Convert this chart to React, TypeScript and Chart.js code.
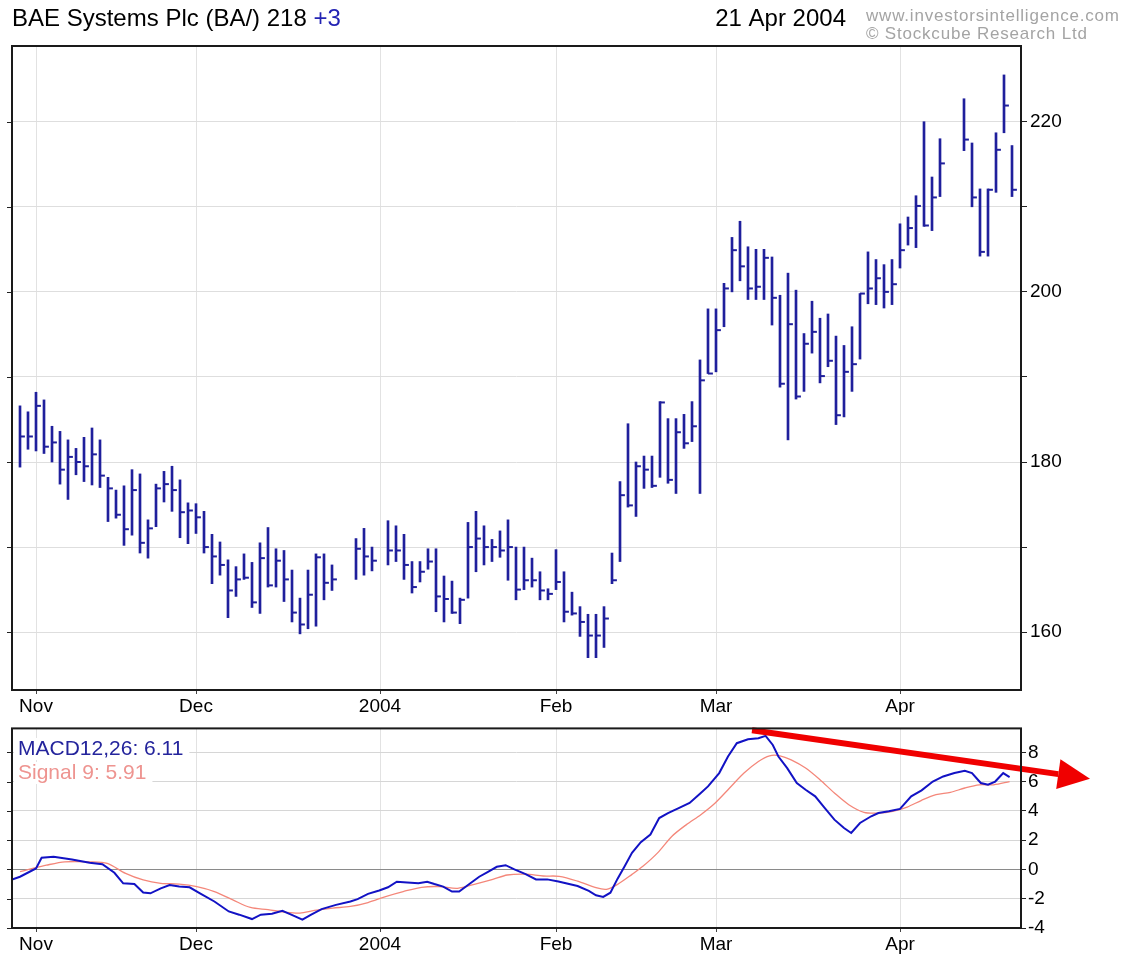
import React, { useEffect, useRef } from "react";
import { Chart, registerables } from "chart.js";
Chart.register(...registerables);

const FONT = "'Liberation Sans', Arial, sans-serif";

// x positions are weekday slots counted from Thu 30 Oct 2003 (holidays are empty slots)
const monthSlots = [2, 22, 45, 67, 87, 110];
const monthLabels = ["Nov", "Dec", "2004", "Feb", "Mar", "Apr"];

const priceSlots = [
  0, 1, 2, 3, 4, 5, 6, 7, 8, 9, 10, 11, 12, 13, 14, 15, 16, 17, 18, 19,
  20, 21, 22, 23, 24, 25, 26, 27, 28, 29, 30, 31, 32, 33, 34, 35, 36, 37, 38, 39,
  42, 43, 44, 46, 47, 48, 49, 50, 51, 52, 53, 54, 55, 56, 57, 58, 59, 60, 61, 62,
  63, 64, 65, 66, 67, 68, 69, 70, 71, 72, 73, 74, 75, 76, 77, 78, 79, 80, 81, 82,
  83, 84, 85, 86, 87, 88, 89, 90, 91, 92, 93, 94, 95, 96, 97, 98, 99, 100, 101, 102,
  103, 104, 105, 106, 107, 108, 109, 110, 111, 112, 113, 114, 115, 118, 119, 120, 121, 122, 123, 124,
];
const priceHigh = [
  186.6, 185.9, 188.2, 187.3, 184.2, 183.6, 182.6, 181.6, 182.9, 184.0, 182.6, 178.2, 176.7, 177.2, 179.1, 178.6, 173.2, 177.4, 178.9, 179.5,
  177.9, 175.2, 175.1, 174.2, 171.5, 170.6, 168.5, 167.7, 169.2, 168.2, 170.5, 172.3, 169.8, 169.6, 167.3, 164.0, 167.3, 169.2, 169.2, 167.9,
  171.0, 172.2, 170.0, 173.1, 172.5, 171.5, 168.3, 168.3, 169.8, 169.8, 166.6, 166.0, 164.0, 172.9, 174.2, 172.5, 170.9, 171.9, 173.2, 170.0,
  170.0, 168.7, 167.1, 165.1, 169.7, 167.1, 164.7, 163.0, 162.1, 162.1, 163.0, 169.3, 177.7, 184.5, 180.0, 180.7, 180.7, 187.1, 185.1, 185.1,
  185.6, 187.1, 192.0, 198.0, 198.0, 201.0, 206.4, 208.3, 205.3, 205.0, 205.0, 204.1, 199.6, 202.2, 200.2, 195.1, 198.9, 196.9, 197.4, 194.8,
  193.7, 195.9, 199.8, 204.7, 203.8, 203.2, 203.8, 208.0, 208.8, 211.3, 220.0, 213.5, 218.0, 222.7, 217.5, 212.1, 212.1, 218.7, 225.5, 217.2,
];
const priceLow = [
  179.4, 181.5, 181.3, 181.0, 180.0, 177.4, 175.6, 178.5, 177.7, 177.3, 177.0, 173.0, 173.4, 170.2, 171.4, 169.3, 168.7, 172.4, 175.3, 174.2,
  171.1, 170.4, 171.6, 169.3, 165.7, 166.7, 161.7, 164.2, 166.2, 162.9, 162.2, 165.3, 165.3, 163.6, 161.2, 159.8, 160.4, 160.7, 163.8, 164.9,
  166.2, 166.7, 167.2, 167.9, 168.3, 166.2, 164.6, 165.9, 167.4, 162.4, 161.2, 162.2, 161.0, 164.0, 167.1, 167.9, 168.3, 168.8, 166.1, 163.8,
  165.0, 165.3, 163.8, 163.8, 165.0, 161.2, 162.0, 159.5, 157.0, 157.0, 158.2, 165.7, 168.3, 174.7, 173.6, 176.9, 177.0, 178.2, 177.5, 176.3,
  181.6, 182.4, 176.3, 190.4, 190.6, 195.9, 200.0, 201.3, 199.1, 199.1, 199.1, 196.1, 188.8, 182.6, 187.4, 188.3, 192.8, 189.3, 191.2, 184.4,
  185.3, 188.3, 192.1, 198.6, 198.5, 198.1, 198.5, 202.8, 205.5, 205.2, 207.7, 207.2, 211.2, 216.6, 210.0, 204.2, 204.2, 211.7, 218.7, 211.2,
];
const priceClose = [
  183.0, 183.0, 186.6, 181.8, 182.3, 179.1, 180.6, 180.0, 179.5, 180.9, 178.4, 176.9, 173.8, 172.1, 176.7, 170.5, 172.2, 176.9, 177.4, 176.7,
  174.1, 174.3, 173.5, 170.0, 168.9, 167.9, 164.9, 166.2, 166.4, 163.5, 168.7, 165.5, 168.4, 166.2, 162.3, 160.9, 164.4, 168.8, 165.8, 166.2,
  169.8, 168.9, 168.4, 169.6, 169.6, 167.9, 165.3, 167.1, 168.3, 164.2, 163.9, 162.3, 163.8, 170.0, 171.0, 170.0, 170.0, 169.6, 170.0, 165.0,
  166.1, 166.1, 164.9, 164.5, 165.9, 162.4, 162.2, 161.2, 159.6, 159.6, 161.6, 166.1, 176.1, 174.9, 179.5, 179.1, 177.2, 187.0, 177.9, 183.5,
  182.2, 184.2, 189.6, 190.4, 195.5, 200.4, 204.9, 203.0, 200.4, 200.6, 204.0, 199.3, 189.2, 196.2, 187.7, 193.9, 195.3, 190.1, 191.9, 185.5,
  190.6, 191.5, 199.8, 200.4, 201.6, 200.0, 200.9, 204.9, 207.5, 210.1, 207.8, 211.1, 215.1, 217.9, 211.1, 204.7, 212.0, 216.7, 221.9, 212.0,
];
const priceTicks = [160, 170, 180, 190, 200, 210, 220];

const macdSlots = [
  -1, 0, 2, 2.7, 4.2, 6.5, 8.7, 10.3, 11.8, 12.9, 14.3, 15.4, 16.3, 17.6, 18.7, 19.9, 21.2, 22.5, 24.3, 26.1,
  27.4, 29, 30.1, 31.5, 32.8, 33.9, 35.3, 36.4, 37.7, 39.5, 41.3, 42.2, 43.5, 44.9, 46, 47.1, 48.4, 49.8, 50.9, 51.8,
  52.9, 54, 54.9, 56, 57.4, 58.5, 59.6, 60.7, 61.8, 63.2, 64.5, 65.9, 67.3, 69.7, 71.1, 72, 72.9, 73.8, 74.7, 75.6,
  76.5, 77.6, 78.8, 79.9, 81, 82.4, 83.7, 85.1, 86, 87.4, 88.5, 89.6, 91, 92.3, 93.2, 94.1, 94.8, 95.9, 97.1, 98.2,
  99.4, 100.5, 101.8, 103, 103.9, 105, 106.4, 107.3, 108.6, 110, 111.4, 112.7, 114.1, 115.4, 116.8, 118.1, 119, 120.1, 121, 121.9,
  122.9, 123.7,
];
const macdValues = [
  -0.7, -0.5, 0.07, 0.8, 0.86, 0.68, 0.45, 0.36, -0.23, -0.95, -1.0, -1.58, -1.63, -1.29, -1.06, -1.17, -1.22, -1.63, -2.19, -2.87,
  -3.09, -3.39, -3.09, -3.02, -2.82, -3.09, -3.43, -3.09, -2.71, -2.42, -2.19, -2.03, -1.67, -1.44, -1.22, -0.84, -0.9, -0.95, -0.84, -1.0,
  -1.17, -1.51, -1.51, -1.06, -0.5, -0.16, 0.18, 0.29, 0.0, -0.32, -0.68, -0.68, -0.82, -1.13, -1.47, -1.77, -1.88, -1.59, -0.63, 0.23,
  1.13, 1.86, 2.38, 3.51, 3.85, 4.2, 4.54, 5.22, 5.67, 6.58, 7.71, 8.62, 8.89, 8.96, 9.12, 8.5, 7.71, 6.92, 5.9, 5.44,
  4.99, 4.26, 3.4, 2.83, 2.49, 3.17, 3.63, 3.85, 3.97, 4.13, 4.99, 5.4, 6.0, 6.35, 6.58, 6.73, 6.58, 5.9, 5.78, 6.0,
  6.58, 6.3,
];
const signalSlots = [
  0, 1.1, 3.3, 5.6, 8.7, 10.9, 13.2, 15.4, 17.6, 19.9, 22.1, 24.3, 26.6, 28.8, 31, 33.3, 35, 36.8, 39.1, 41.3,
  43.5, 45.7, 47.9, 50.2, 52.4, 54.7, 56.9, 59.1, 60.9, 63.2, 65.4, 67.4, 69.7, 72, 73.3, 74.7, 76.5, 77.9, 79.7, 81.5,
  83.3, 85.1, 86.9, 88.7, 90.5, 92.3, 93.7, 95, 96.4, 98.2, 100, 101.8, 103.6, 105.5, 107.3, 109.1, 110.9, 112.7, 114.5, 116.3,
  118.1, 119.9, 121.7, 123.7,
];
const signalValues = [
  -0.15, 0.0, 0.29, 0.52, 0.52, 0.41, -0.27, -0.72, -0.95, -1.0, -1.17, -1.51, -2.08, -2.6, -2.75, -2.93, -2.98, -2.8, -2.64, -2.53,
  -2.26, -1.85, -1.51, -1.22, -1.17, -1.29, -1.0, -0.68, -0.38, -0.32, -0.45, -0.47, -0.8, -1.25, -1.36, -1.02, -0.34, 0.23, 1.13, 2.27,
  3.06, 3.74, 4.54, 5.56, 6.58, 7.37, 7.76, 7.76, 7.48, 6.92, 6.12, 5.22, 4.42, 3.9, 3.85, 3.97, 4.26, 4.72, 5.1, 5.26,
  5.56, 5.78, 5.78, 6.0,
];
const macdTicks = [-4, -3, -2, -1, 0, 1, 2, 3, 4, 5, 6, 7, 8, 9];
// trend arrow drawn on the MACD panel: [slot, value] from start to tip
const arrowStart = [91.5, 9.5];
const arrowTip = [133.75, 6.2];

const NAVY = "#1f1f9c";

const framePlugin = {
  id: "frame",
  afterDraw(chart: any) {
    const { ctx, chartArea: a } = chart;
    const ys = chart.scales.y;
    ctx.save();
    ctx.strokeStyle = "#222";
    ctx.lineWidth = 1;
    ys.ticks.forEach((t: any) => {
      const y = Math.round(ys.getPixelForValue(t.value)) + 0.5;
      ctx.beginPath();
      ctx.moveTo(a.left - 5, y);
      ctx.lineTo(a.left, y);
      ctx.stroke();
    });
    ctx.lineWidth = 2;
    ctx.strokeStyle = "#1a1a1a";
    ctx.strokeRect(a.left, a.top, a.right - a.left, a.bottom - a.top);
    ctx.restore();
  },
};

const titlePlugin = {
  id: "title",
  afterDraw(chart: any) {
    const { ctx } = chart;
    ctx.save();
    ctx.textBaseline = "middle";
    ctx.font = `24px ${FONT}`;
    ctx.fillStyle = "#000";
    const t1 = "BAE Systems Plc (BA/) 218 ";
    ctx.textAlign = "left";
    ctx.fillText(t1, 12, 19);
    const w = ctx.measureText(t1).width;
    ctx.fillStyle = "#2424b4";
    ctx.fillText("+3", 12 + w, 19);
    ctx.fillStyle = "#000";
    ctx.textAlign = "right";
    ctx.fillText("21 Apr 2004", 846, 19);
    ctx.textAlign = "left";
    ctx.font = `17px ${FONT}`;
    (ctx as any).letterSpacing = "0.8px";
    ctx.fillStyle = "#a4a4a4";
    ctx.fillText("www.investorsintelligence.com", 866, 16);
    ctx.fillText("\u00A9 Stockcube Research Ltd", 866, 34);
    ctx.restore();
  },
};

const macdPlugin = {
  id: "macdExtras",
  afterDatasetsDraw(chart: any) {
    const { ctx } = chart;
    const xs = chart.scales.x;
    const ys = chart.scales.y;
    ctx.save();
    // legend
    ctx.font = `21px ${FONT}`;
    ctx.textBaseline = "middle";
    ctx.textAlign = "left";
    const rows = [
      { text: "MACD12,26: 6.11", color: "#24249c", y: 34 },
      { text: "Signal 9: 5.91", color: "#ee9490", y: 58 },
    ];
    rows.forEach((r) => {
      const w = ctx.measureText(r.text).width;
      ctx.fillStyle = "#fff";
      ctx.fillRect(14, r.y - 11, w + 10, 22);
      ctx.fillStyle = r.color;
      ctx.fillText(r.text, 18, r.y);
    });
    // arrow
    const x1 = xs.getPixelForValue(arrowStart[0]);
    const y1 = ys.getPixelForValue(arrowStart[1]);
    const x2 = xs.getPixelForValue(arrowTip[0]);
    const y2 = ys.getPixelForValue(arrowTip[1]);
    const ang = Math.atan2(y2 - y1, x2 - x1);
    const headLen = 32;
    const headW = 15;
    const bx = x2 - headLen * Math.cos(ang);
    const by = y2 - headLen * Math.sin(ang);
    ctx.strokeStyle = "#f00000";
    ctx.fillStyle = "#f00000";
    ctx.lineWidth = 6;
    ctx.beginPath();
    ctx.moveTo(x1, y1);
    ctx.lineTo(bx, by);
    ctx.stroke();
    ctx.beginPath();
    ctx.moveTo(x2, y2);
    ctx.lineTo(bx + headW * Math.sin(ang), by - headW * Math.cos(ang));
    ctx.lineTo(bx - headW * Math.sin(ang), by + headW * Math.cos(ang));
    ctx.closePath();
    ctx.fill();
    ctx.restore();
  },
};

function xAxis(height: number) {
  return {
    type: "linear" as const,
    min: -1,
    max: 125.125,
    offset: false,
    afterBuildTicks: (s: any) => {
      s.ticks = monthSlots.map((v) => ({ value: v }));
    },
    afterFit: (s: any) => {
      s.height = height;
    },
    ticks: {
      autoSkip: false,
      maxRotation: 0,
      padding: 1,
      color: "#000",
      font: { size: 19, family: FONT },
      callback: (_v: any, i: number) => monthLabels[i],
    },
    grid: { color: "#e2e2e2", tickColor: "#444", tickLength: 4, offset: false },
    border: { display: false },
  };
}

export default function App() {
  const priceRef = useRef<HTMLCanvasElement>(null);
  const macdRef = useRef<HTMLCanvasElement>(null);

  useEffect(() => {
    Chart.defaults.font.family = FONT;
    const price = new Chart(priceRef.current as HTMLCanvasElement, {
      type: "bar",
      data: {
        datasets: [
          {
            type: "bar",
            data: priceSlots.map((s, i) => ({ x: s, y: [priceLow[i], priceHigh[i]] })) as any,
            backgroundColor: NAVY,
            borderWidth: 0,
            barThickness: 2,
            grouped: false,
          } as any,
          {
            type: "scatter",
            data: priceSlots.map((s, i) => ({ x: s + 0.3, y: priceClose[i] })),
            pointStyle: "line",
            pointRadius: 2.5,
            pointBorderWidth: 2,
            pointBorderColor: NAVY,
            borderColor: NAVY,
            showLine: false,
          } as any,
        ],
      },
      options: {
        animation: false,
        responsive: false,
        devicePixelRatio: 1,
        layout: { padding: { left: 12, top: 46, right: 0, bottom: 0 } },
        plugins: { legend: { display: false }, tooltip: { enabled: false } },
        scales: {
          x: xAxis(25) as any,
          y: {
            type: "linear",
            position: "right",
            min: 153.2,
            max: 228.9,
            afterBuildTicks: (s: any) => {
              s.ticks = priceTicks.map((v) => ({ value: v }));
            },
            afterFit: (s: any) => {
              s.width = 107;
            },
            ticks: {
              padding: 3,
              color: "#000",
              font: { size: 19, family: FONT },
              callback: (v: any) => (Number(v) % 20 === 0 ? String(v) : ""),
            },
            grid: { color: "#dedede", tickColor: "#222", tickLength: 6 },
            border: { display: false },
          },
        },
      },
      plugins: [framePlugin, titlePlugin],
    });

    const macd = new Chart(macdRef.current as HTMLCanvasElement, {
      type: "line",
      data: {
        datasets: [
          {
            data: macdSlots.map((s, i) => ({ x: s, y: macdValues[i] })),
            borderColor: "#1212c4",
            borderWidth: 2,
            pointRadius: 0,
            tension: 0,
          },
          {
            data: signalSlots.map((s, i) => ({ x: s, y: signalValues[i] })),
            borderColor: "#f4877a",
            borderWidth: 1.3,
            pointRadius: 0,
            tension: 0.3,
          },
        ],
      },
      options: {
        animation: false,
        responsive: false,
        devicePixelRatio: 1,
        layout: { padding: { left: 12, top: 12, right: 0, bottom: 0 } },
        plugins: { legend: { display: false }, tooltip: { enabled: false } },
        scales: {
          x: xAxis(27) as any,
          y: {
            type: "linear",
            position: "right",
            min: -4,
            max: 9.63,
            afterBuildTicks: (s: any) => {
              s.ticks = macdTicks.map((v) => ({ value: v }));
            },
            afterFit: (s: any) => {
              s.width = 107;
            },
            ticks: {
              padding: 2,
              color: "#000",
              font: { size: 19, family: FONT },
              callback: (v: any) => (Number(v) % 2 === 0 && Number(v) <= 8 ? String(v) : ""),
            },
            grid: {
              color: (c: any) => (c.tick && c.tick.value === 0 ? "#8a8a8a" : "#d6d6d6"),
              tickColor: "#222",
              tickLength: 5,
            },
            border: { display: false },
          },
        },
      },
      plugins: [framePlugin, macdPlugin],
    });

    return () => {
      price.destroy();
      macd.destroy();
    };
  }, []);

  return (
    <div style={{ position: "absolute", left: 0, top: 0, width: 1128, height: 955, background: "#fff" }}>
      <canvas ref={priceRef} width={1128} height={715} style={{ position: "absolute", left: 0, top: 0 }} />
      <canvas ref={macdRef} width={1128} height={240} style={{ position: "absolute", left: 0, top: 715 }} />
    </div>
  );
}
